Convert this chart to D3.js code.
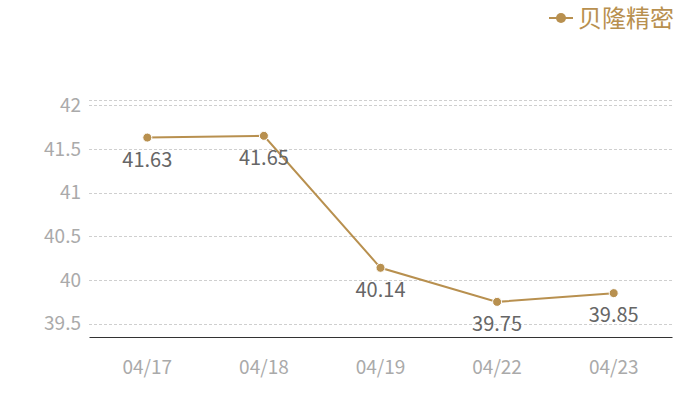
<!DOCTYPE html>
<html><head><meta charset="utf-8">
<script src="https://cdn.jsdelivr.net/npm/d3@7"></script>
<style>body{margin:0;background:#fff}svg{display:block}</style>
</head><body>
<svg id="c" width="700" height="400"></svg>
<script>
const categories = ["04/17","04/18","04/19","04/22","04/23"];
const values = [41.63, 41.65, 40.14, 39.75, 39.85];
const yTicks = [39.5, 40, 40.5, 41, 41.5, 42];
const seriesName = "贝隆精密";

const color = "#b8904f";
const font = "'Noto Sans CJK SC','Noto Sans',sans-serif";
const svg = d3.select("#c");
const x = d3.scaleBand().domain(categories).range([89, 672]).padding(0);
const y = d3.scaleLinear().domain([39.348, 42.06]).range([337, 100]);

// grid
const grid = yTicks.concat([y.domain()[1]]);
svg.append("g").selectAll("line").data(grid).join("line")
  .attr("x1", 89).attr("x2", 672)
  .attr("y1", d => Math.round(y(d)) + 0.5).attr("y2", d => Math.round(y(d)) + 0.5)
  .attr("stroke", "#cfcfcf").attr("stroke-dasharray", "3,2");

// y axis labels
const ya = svg.append("g").attr("transform", "translate(81,0)")
  .call(d3.axisLeft(y).tickValues(yTicks).tickSize(0).tickPadding(0).tickFormat(d3.format("")));
ya.select(".domain").remove();
ya.selectAll("text").attr("fill", "#aaa").style("font-size", "19px").style("font-family", font);

// x axis
const xa = svg.append("g").attr("transform", "translate(0,337)")
  .call(d3.axisBottom(x).tickSize(0).tickPadding(24));
xa.select(".domain").attr("stroke", "#333");
xa.selectAll("text").attr("fill", "#aaa").style("font-size", "19px").style("font-family", font);

const cx = d => x(d) + x.bandwidth() / 2;
const pts = categories.map((c, i) => [cx(c), y(values[i])]);

svg.append("path").datum(pts).attr("d", d3.line())
  .attr("fill", "none").attr("stroke", color).attr("stroke-width", 2);
svg.append("g").selectAll("circle").data(pts).join("circle")
  .attr("cx", d => d[0]).attr("cy", d => d[1]).attr("r", 4.5)
  .attr("fill", color).attr("stroke", "#fff").attr("stroke-width", 1);
svg.append("g").selectAll("text").data(categories).join("text")
  .attr("x", d => cx(d)).attr("y", (d, i) => y(values[i]) + 29)
  .attr("text-anchor", "middle").attr("fill", "#666")
  .style("font-size", "20px").style("font-family", font)
  .text((d, i) => values[i].toFixed(2));

// legend
const lg = svg.append("g");
lg.append("line").attr("x1", 549).attr("x2", 573).attr("y1", 18).attr("y2", 18)
  .attr("stroke", color).attr("stroke-width", 2);
lg.append("circle").attr("cx", 561).attr("cy", 18).attr("r", 5).attr("fill", color);
lg.append("text").attr("x", 578).attr("y", 27).attr("fill", color)
  .style("font-size", "24px").style("font-family", font).text(seriesName);
</script>
</body></html>
